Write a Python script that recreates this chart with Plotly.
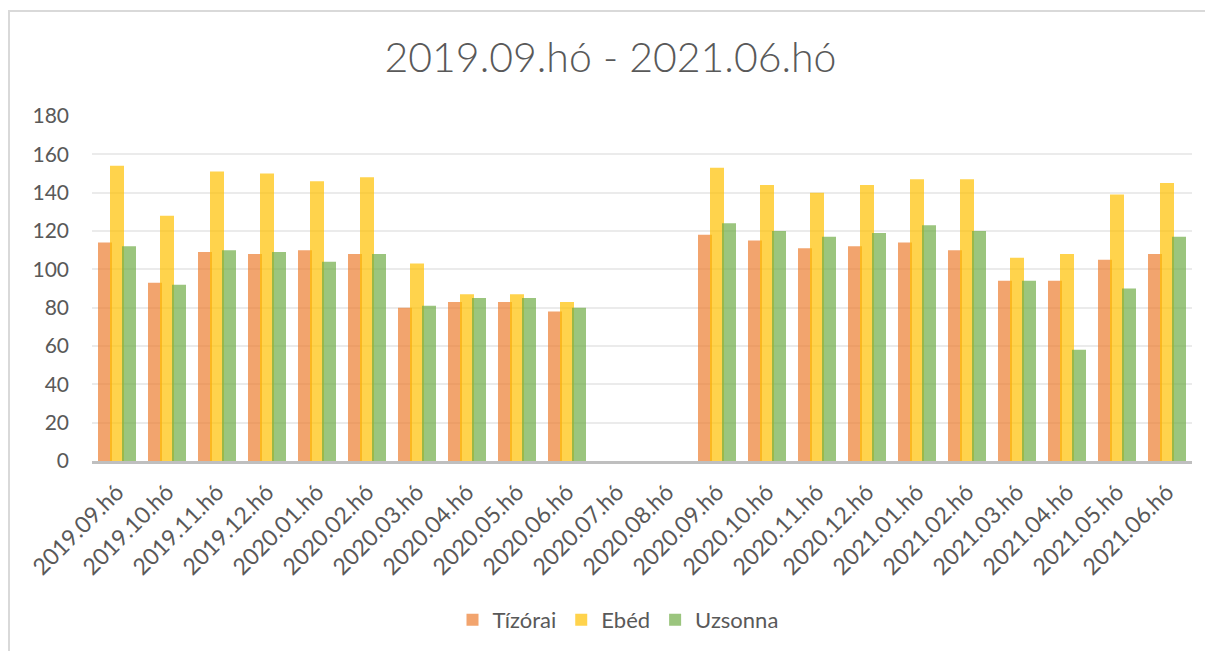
import plotly.graph_objects as go

categories = ["2019.09.hó", "2019.10.hó", "2019.11.hó", "2019.12.hó", "2020.01.hó",
              "2020.02.hó", "2020.03.hó", "2020.04.hó", "2020.05.hó", "2020.06.hó",
              "2020.07.hó", "2020.08.hó", "2020.09.hó", "2020.10.hó", "2020.11.hó",
              "2020.12.hó", "2021.01.hó", "2021.02.hó", "2021.03.hó", "2021.04.hó",
              "2021.05.hó", "2021.06.hó"]
tizorai = [114, 93, 109, 108, 110, 108, 80, 83, 83, 78, 0, 0,
           118, 115, 111, 112, 114, 110, 94, 94, 105, 108]
ebed = [154, 128, 151, 150, 146, 148, 103, 87, 87, 83, 0, 0,
        153, 144, 140, 144, 147, 147, 106, 108, 139, 145]
uzsonna = [112, 92, 110, 109, 104, 108, 81, 85, 85, 80, 0, 0,
           124, 120, 117, 119, 123, 120, 94, 58, 90, 117]

series = [
    ("Tízórai", tizorai, "rgba(237,125,49,0.7)", -0.38),
    ("Ebéd", ebed, "rgba(255,192,0,0.7)", -0.14),
    ("Uzsonna", uzsonna, "rgba(112,173,71,0.7)", 0.10),
]

fig = go.Figure()
for name, vals, color, off in series:
    fig.add_trace(go.Bar(
        x=categories, y=vals, name=name,
        marker=dict(color=color, line=dict(width=0)),
        width=0.28, offset=off,
    ))

font_family = "Lato, 'Open Sans', sans-serif"
gray = "#595959"

W, H = 1205, 643
ML, MR, MT, MB = 84, 21, 108, 190
PH = H - MT - MB
PW = W - ML - MR

fig.update_layout(
    width=W, height=H,
    barmode="overlay",
    paper_bgcolor="white", plot_bgcolor="white",
    margin=dict(l=ML, r=MR, t=MT, b=MB, autoexpand=False),
    title=dict(text="2019.09.hó - 2021.06.hó", x=0.5, xanchor="center",
               y=1 - 50 / H, yref="container", yanchor="middle",
               font=dict(family=font_family, size=41, color=gray, weight=300)),
    font=dict(family=font_family, color=gray),
    showlegend=True,
    legend=dict(orientation="h", x=0.5 - 24 / PW, xanchor="center", y=-(612 - (H - MB)) / PH,
                yanchor="middle",
                font=dict(size=22, color=gray), traceorder="normal",
                itemwidth=30),
    shapes=[
        dict(type="line", xref="paper", yref="paper",
             x0=-ML / PW, x1=(PW + MR) / PW, y0=(H - 3 - MB) / PH, y1=(H - 3 - MB) / PH,
             line=dict(color="#D9D9D9", width=2)),
        dict(type="line", xref="paper", yref="paper",
             x0=-(ML - 1) / PW, x1=-(ML - 1) / PW, y0=(H - 3 - MB) / PH, y1=-MB / PH,
             line=dict(color="#D9D9D9", width=2)),
    ],
)
fig.update_xaxes(
    type="category", tickangle=-45, tickfont=dict(size=23, color=gray),
    showline=True, linecolor="#BFBFBF", linewidth=2.5, ticks="",
    showgrid=False, automargin=False, ticklabelstandoff=6,
)
fig.update_yaxes(
    range=[0, 180], dtick=20, tickfont=dict(size=21, color=gray),
    showgrid=True, gridcolor="#EBEBEB", gridwidth=1.5, zeroline=False,
    showline=False, ticks="", ticklabelstandoff=22, automargin=False,
)

fig.write_html("out.html")
